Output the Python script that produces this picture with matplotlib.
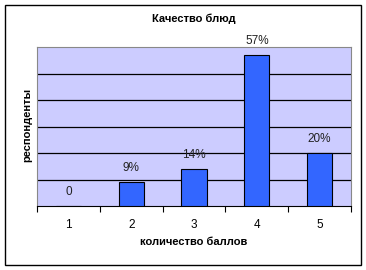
import matplotlib
matplotlib.use("Agg")
import matplotlib.pyplot as plt
from matplotlib.patches import Rectangle

plt.rcParams['font.family'] = ['Liberation Sans', 'DejaVu Sans']

categories = ["1", "2", "3", "4", "5"]
values = [0.0, 0.09, 0.14, 0.57, 0.20]
labels = ["0", "9%", "14%", "57%", "20%"]

W, H = 366, 270
fig = plt.figure(figsize=(W/100, H/100), dpi=100)
fig.patch.set_facecolor('white')
fig.add_artist(Rectangle((5/W, 5/H), 356/W, 260/H, transform=fig.transFigure,
                         fill=False, edgecolor='black', linewidth=1.0))

left, right, top, bottom = 37, 351, 47, 206
ax = fig.add_axes([left/W, 1-bottom/H, (right-left)/W, (bottom-top)/H])
ax.set_facecolor('#ccccff')
x = list(range(len(categories)))
ax.bar(x, values, width=0.4, color='#3366ff', edgecolor='black', linewidth=0.8, zorder=3)
for xi, v, lab in zip(x, values, labels):
    ax.text(xi, v + 0.03, lab, ha='center', va='bottom', fontsize=8.5, color='#222222', zorder=4)

ax.set_xlim(-0.5, len(categories)-0.5)
ax.set_ylim(0, 0.6)
ax.set_yticks([0.1, 0.2, 0.3, 0.4, 0.5])
ax.yaxis.grid(True, color='black', linewidth=0.9, zorder=1)
ax.tick_params(axis='y', left=False, labelleft=False)
ax.set_xticks(x)
ax.set_xticklabels(categories, fontsize=8.5)
ax.set_xticks([i - 0.5 for i in range(len(categories)+1)], minor=True)
ax.tick_params(axis='x', which='major', length=0, pad=9)
ax.tick_params(axis='x', which='minor', length=4, width=0.8, direction='out')
for s in ['top', 'right', 'left']:
    ax.spines[s].set_color('#888888')
    ax.spines[s].set_linewidth(0.8)
ax.spines['bottom'].set_color('black')

fig.text(0.5*(left+right)/W, 1-19/H, "Качество блюд", ha='center', va='center',
         fontsize=8, fontweight='bold')
fig.text(0.5*(left+right)/W, 1-242/H, "количество баллов", ha='center', va='center',
         fontsize=8, fontweight='bold')
fig.text(27/W, 1-125/H, "респонденты", ha='center', va='center', rotation=90,
         fontsize=8, fontweight='bold')

fig.savefig("out.png", dpi=100)
